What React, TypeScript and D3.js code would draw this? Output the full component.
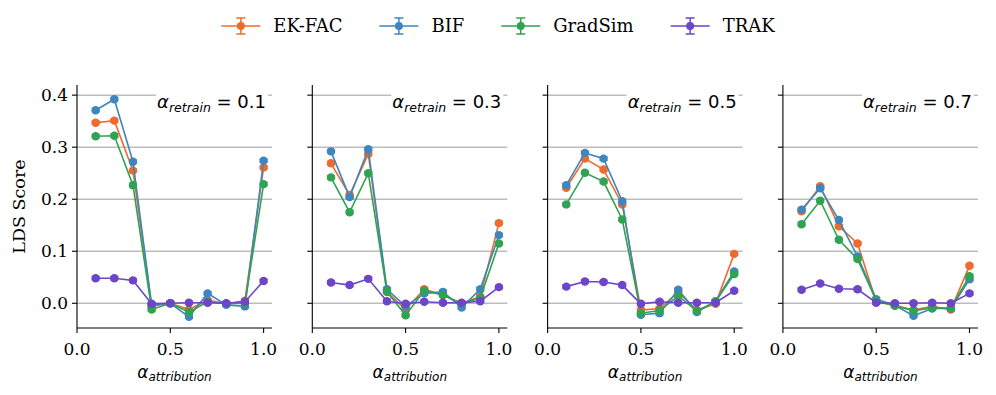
import React from "react";
import * as d3 from "d3";

const alphaAttribution = [0.1, 0.2, 0.3, 0.4, 0.5, 0.6, 0.7, 0.8, 0.9, 1.0];
const retrainLabels = ["0.1", "0.3", "0.5", "0.7"];

// one row per alpha_retrain panel
const ekfac = [
  [0.347, 0.351, 0.255, -0.006, 0.0, -0.012, 0.006, -0.001, 0.005, 0.261],
  [0.269, 0.208, 0.287, 0.022, -0.012, 0.027, 0.016, 0.0, 0.013, 0.154],
  [0.222, 0.278, 0.257, 0.19, -0.013, -0.01, 0.021, -0.013, -0.001, 0.095],
  [0.177, 0.225, 0.148, 0.115, 0.003, -0.004, -0.013, -0.006, -0.012, 0.072],
];
const bif = [
  [0.371, 0.392, 0.272, -0.003, 0.0, -0.026, 0.019, -0.003, -0.006, 0.274],
  [0.292, 0.204, 0.296, 0.027, -0.006, 0.019, 0.022, -0.008, 0.027, 0.131],
  [0.227, 0.289, 0.278, 0.196, -0.022, -0.019, 0.026, -0.017, 0.004, 0.061],
  [0.18, 0.221, 0.16, 0.09, 0.008, -0.004, -0.024, -0.01, -0.01, 0.046],
];
const gradsim = [
  [0.321, 0.322, 0.227, -0.012, 0.0, -0.017, 0.003, -0.001, 0.0, 0.229],
  [0.242, 0.175, 0.25, 0.022, -0.023, 0.024, 0.016, -0.001, 0.01, 0.115],
  [0.19, 0.251, 0.234, 0.161, -0.019, -0.014, 0.014, -0.015, 0.003, 0.056],
  [0.152, 0.197, 0.122, 0.085, 0.005, -0.005, -0.014, -0.009, -0.009, 0.052],
];
const trak = [
  [0.048, 0.048, 0.044, -0.001, 0.0, 0.001, 0.001, 0.0, 0.003, 0.043],
  [0.04, 0.035, 0.047, 0.004, -0.001, 0.003, 0.001, 0.001, 0.004, 0.031],
  [0.032, 0.042, 0.041, 0.035, -0.001, 0.003, 0.001, 0.001, 0.001, 0.024],
  [0.026, 0.038, 0.028, 0.027, 0.001, 0.0, 0.0, 0.001, 0.0, 0.019],
];
const errHalf = 0.003;

const seriesNames = ["EK-FAC", "BIF", "GradSim", "TRAK"];
const seriesData = [ekfac, bif, gradsim, trak];
const seriesColors = ["#ef6a2c", "#3d86c0", "#2fa352", "#6c45c9"];

const yTicks = [0.0, 0.1, 0.2, 0.3, 0.4];
const xTicks = [0.0, 0.5, 1.0];

const W = 996;
const H = 395;
const panelLeft0 = 77;
const panelStep = 235.3;
const panelW = 195;
const top = 85;
const bottom = 328;

const serif = "'DejaVu Serif', serif";
const sans = "'DejaVu Sans', sans-serif";

function measure(text: string, font: string) {
  const ctx = document.createElement("canvas").getContext("2d");
  if (!ctx) return text.length * 10;
  ctx.font = font;
  return ctx.measureText(text).width;
}

function Panel({ idx }: { idx: number }) {
  const left = panelLeft0 + idx * panelStep;
  const x = d3.scaleLinear().domain([0, 1.045]).range([left, left + panelW]);
  const y = d3.scaleLinear().domain([-0.0475, 0.4195]).range([bottom, top]);
  const right = left + panelW;
  const line = d3
    .line<number>()
    .x((_, i) => x(alphaAttribution[i]))
    .y((d) => y(d));

  return (
    <g>
      {/* grid */}
      {yTicks.map((t) => (
        <line key={t} x1={left} x2={right} y1={y(t)} y2={y(t)} stroke="#bdbdbd" strokeWidth={1.5} />
      ))}
      {/* title box */}
      <rect x={right - 116} y={86} width={112} height={28} fill="#fff" />
      <text x={right - 6} y={108} textAnchor="end" fontFamily={sans} fontSize={18} fill="#000">
        <tspan fontStyle="italic">α</tspan>
        <tspan fontStyle="italic" fontSize={12.5} dy={3.5}>retrain</tspan>
        <tspan dy={-3.5}>{" = " + retrainLabels[idx]}</tspan>
      </text>
      {/* series */}
      {seriesData.map((sd, si) => {
        const vals = sd[idx];
        const c = seriesColors[si];
        return (
          <g key={si}>
            <path d={line(vals) || ""} fill="none" stroke={c} strokeWidth={1.6} />
            {vals.map((v, i) => {
              const cx = x(alphaAttribution[i]);
              const y0 = y(v - errHalf);
              const y1 = y(v + errHalf);
              return (
                <g key={i}>
                  <line x1={cx} x2={cx} y1={y0} y2={y1} stroke={c} strokeWidth={1.5} />
                  <line x1={cx - 4} x2={cx + 4} y1={y0} y2={y0} stroke={c} strokeWidth={1.5} />
                  <line x1={cx - 4} x2={cx + 4} y1={y1} y2={y1} stroke={c} strokeWidth={1.5} />
                  <circle cx={cx} cy={y(v)} r={4.2} fill={c} />
                </g>
              );
            })}
          </g>
        );
      })}
      {/* axes */}
      <line x1={left} x2={left} y1={top} y2={bottom} stroke="#000" strokeWidth={1.1} />
      <line x1={left} x2={right} y1={bottom} y2={bottom} stroke="#000" strokeWidth={1.1} />
      {yTicks.map((t) => (
        <g key={t}>
          <line x1={left - 5} x2={left} y1={y(t)} y2={y(t)} stroke="#000" strokeWidth={1.1} />
          {idx === 0 && (
            <text x={left - 9} y={y(t)} dy="0.36em" textAnchor="end" fontFamily={serif} fontSize={17} fill="#000">
              {d3.format(".1f")(t)}
            </text>
          )}
        </g>
      ))}
      {xTicks.map((t) => (
        <g key={t}>
          <line x1={x(t)} x2={x(t)} y1={bottom} y2={bottom + 5} stroke="#000" strokeWidth={1.1} />
          <text x={x(t)} y={355} textAnchor="middle" fontFamily={serif} fontSize={17} fill="#000">
            {d3.format(".1f")(t)}
          </text>
        </g>
      ))}
      <text x={(left + right) / 2} y={378} textAnchor="middle" fontFamily={sans} fontSize={17} fill="#000">
        <tspan fontStyle="italic">α</tspan>
        <tspan fontStyle="italic" fontSize={12} dy={3}>attribution</tspan>
      </text>
      {idx === 0 && (
        <text
          transform={`translate(19,${(top + bottom) / 2}) rotate(-90)`}
          textAnchor="middle"
          dy="0.35em"
          fontFamily={serif}
          fontSize={17.5}
          fill="#000"
        >
          LDS Score
        </text>
      )}
    </g>
  );
}

function Legend() {
  const handleLen = 39;
  const textPad = 13;
  const colGap = 37;
  const font = `18px ${serif}`;
  const widths = seriesNames.map((n) => handleLen + textPad + measure(n, font));
  const total = d3.sum(widths) + colGap * (seriesNames.length - 1);
  let cur = 498 - total / 2;
  const cy = 26;
  return (
    <g>
      {seriesNames.map((n, i) => {
        const x0 = cur;
        cur += widths[i] + colGap;
        const c = seriesColors[i];
        const mx = x0 + handleLen / 2;
        return (
          <g key={n}>
            <line x1={x0} x2={x0 + handleLen} y1={cy} y2={cy} stroke={c} strokeWidth={1.6} />
            <line x1={mx} x2={mx} y1={cy - 8} y2={cy + 8} stroke={c} strokeWidth={1.5} />
            <line x1={mx - 4.5} x2={mx + 4.5} y1={cy - 8} y2={cy - 8} stroke={c} strokeWidth={1.5} />
            <line x1={mx - 4.5} x2={mx + 4.5} y1={cy + 8} y2={cy + 8} stroke={c} strokeWidth={1.5} />
            <circle cx={mx} cy={cy} r={4} fill={c} />
            <text x={x0 + handleLen + textPad} y={cy} dy="0.36em" fontFamily={serif} fontSize={18} fill="#000">
              {n}
            </text>
          </g>
        );
      })}
    </g>
  );
}

export default function App() {
  return (
    <svg
      width={W}
      height={H}
      viewBox={`0 0 ${W} ${H}`}
      style={{ position: "absolute", left: 0, top: 0, background: "#fff" }}
    >
      <rect width={W} height={H} fill="#fff" />
      <Legend />
      {retrainLabels.map((_, i) => (
        <Panel key={i} idx={i} />
      ))}
    </svg>
  );
}
